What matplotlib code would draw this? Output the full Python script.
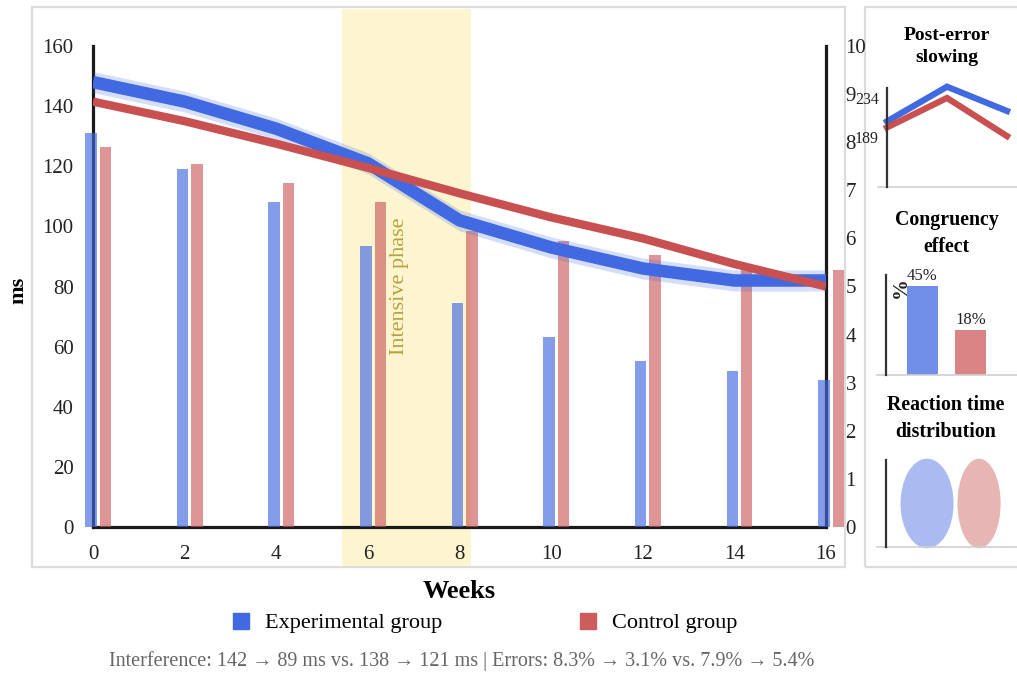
import matplotlib
matplotlib.use('Agg')
import numpy as np
import matplotlib.pyplot as plt
from matplotlib.patches import Rectangle, Ellipse, Patch
from matplotlib.lines import Line2D
import matplotlib.transforms as mtransforms

plt.rcParams['font.family'] = ['Liberation Serif', 'DejaVu Serif']

# ---------------- data ----------------
weeks = [0, 2, 4, 6, 8, 10, 12, 14, 16]
exp_rt = [148, 141.5, 132.5, 121, 102, 93, 86, 82, 82]
ctrl_rt = [141.5, 135, 127.5, 119.5, 111, 103, 96, 87.5, 80]
exp_err = [8.2, 7.45, 6.75, 5.85, 4.65, 3.95, 3.45, 3.25, 3.05]
ctrl_err = [7.9, 7.55, 7.15, 6.75, 6.15, 5.95, 5.65, 5.35, 5.35]
exp_ci = 3.5
phase_start, phase_end = 5.44, 8.25

pes_x = [0, 1, 2]
pes_exp = [207, 247, 219]
pes_ctrl = [200, 234, 190]
pes_ticks = [189, 234]

cong_vals = [45, 18]
cong_labels = ['45%', '18%']

rt_centers = [0, 1]
rt_widths = [1.02, 0.83]
rt_heights = [1.03, 1.03]

BLUE = '#4169e1'
RED = '#cd5c5c'
LINE_RED = '#c85050'

W, H = 1017, 674
fig = plt.figure(figsize=(W / 100, H / 100), dpi=100)


def fx(px):
    return px / W


def fy(py):
    return 1 - py / H


def axes_px(x0, y0, x1, y1):
    return fig.add_axes([fx(x0), fy(y1), fx(x1) - fx(x0), fy(y0) - fy(y1)])


# frames
fig.add_artist(Rectangle((fx(32), fy(567)), fx(845) - fx(32), fy(7) - fy(567),
                         transform=fig.transFigure, fill=False,
                         edgecolor='#dcdcdc', lw=1.6, zorder=-5))
fig.add_artist(Rectangle((fx(865), fy(567)), fx(1030) - fx(865), fy(7) - fy(567),
                         transform=fig.transFigure, fill=False,
                         edgecolor='#dcdcdc', lw=1.6, zorder=-5))

# ---------------- main chart ----------------
ax = axes_px(93, 46, 826, 527)
ax2 = ax.twinx()
ax.set_zorder(2)
ax2.set_zorder(1)
ax.patch.set_visible(False)
ax2.patch.set_visible(False)

ax.set_xlim(0, 16)
ax.set_ylim(0, 160)
ax2.set_ylim(0, 10)

# intensive phase band
trans = mtransforms.blended_transform_factory(ax2.transData, fig.transFigure)
ax2.add_patch(Rectangle((phase_start, fy(566)), phase_end - phase_start,
                        fy(9) - fy(566), transform=trans, color='#fdf5d0',
                        zorder=0, clip_on=False, lw=0))
ax2.text(6.7, 5.0, 'Intensive phase', rotation=90, ha='center', va='center',
         color='#bba13a', fontsize=16, zorder=1)

# bars (error rates, right axis)
bw = 0.25
ax2.bar(np.array(weeks) - 0.045, exp_err, width=bw, color=BLUE, alpha=0.65,
        zorder=3, clip_on=False, lw=0)
ax2.bar(np.array(weeks) + 0.27, ctrl_err, width=bw, color=RED, alpha=0.65,
        zorder=3, clip_on=False, lw=0)

# lines (interference, left axis)
ax.fill_between(weeks, np.array(exp_rt) - exp_ci, np.array(exp_rt) + exp_ci,
                color=BLUE, alpha=0.22, lw=0, zorder=2)
ax.plot(weeks, exp_rt, color=BLUE, lw=9, solid_capstyle='butt',
        solid_joinstyle='round', zorder=3)
ax.plot(weeks, ctrl_rt, color=LINE_RED, lw=6, solid_capstyle='butt',
        solid_joinstyle='round', zorder=4)

for s in ax.spines.values():
    s.set_visible(False)
for name in ['left', 'bottom', 'right']:
    ax2.spines[name].set_color('#1a1a1a')
    ax2.spines[name].set_linewidth(2.3)
ax2.spines['top'].set_visible(False)

ax.set_xticks(weeks)
ax.set_yticks(range(0, 161, 20))
ax2.set_yticks(range(0, 11))
ax.tick_params(axis='x', length=0, pad=13, labelsize=15, colors='#222222')
ax.tick_params(axis='y', length=0, pad=14, labelsize=15, colors='#222222')
ax2.tick_params(axis='y', length=0, pad=14, labelsize=15, colors='#222222')

fig.text(fx(459.5), fy(591), 'Weeks', ha='center', va='center',
         fontsize=19, fontweight='bold')
fig.text(fx(18), fy(290), 'ms', ha='center', va='center', rotation=90,
         fontsize=16, fontweight='bold')

handles = [Patch(color=BLUE), Patch(color=RED)]
fig.legend(handles, ['Experimental group', 'Control group'], loc='center',
           bbox_to_anchor=(fx(485), fy(623)), ncol=2, frameon=False,
           fontsize=16, handlelength=0.75, handleheight=0.75, handletextpad=0.7,
           columnspacing=6.2)

fig.text(fx(462), fy(661),
         'Interference: 142 \u2192 89 ms vs. 138 \u2192 121 ms | Errors: 8.3% \u2192 3.1% vs. 7.9% \u2192 5.4%',
         ha='center', va='center', fontsize=14.5, color='#666666')

# ---------------- side panels ----------------
def style_side(a):
    for n in ['top', 'right', 'bottom']:
        a.spines[n].set_visible(False)
    a.spines['left'].set_color('#333333')
    a.spines['left'].set_linewidth(1.6)
    a.add_line(Line2D([-0.07, 1.0], [0, 0], transform=a.transAxes,
                      color='#d0d0d0', lw=1.2, clip_on=False))
    a.set_xticks([])
    a.set_yticks([])
    a.patch.set_visible(False)


# post-error slowing
s1 = axes_px(887, 88, 1017, 187)
style_side(s1)
s1.set_xlim(0, 2.167)
s1.set_ylim(131.3, 245.5)
s1.plot(pes_x, pes_exp, color=BLUE, lw=4.5, clip_on=False,
        solid_joinstyle='miter')
s1.plot(pes_x, pes_ctrl, color=LINE_RED, lw=4.5, clip_on=False,
        solid_joinstyle='miter')
s1.set_yticks(pes_ticks)
s1.tick_params(axis='y', length=0, pad=6, labelsize=11.5, colors='#222222')
fig.text(fx(947), fy(46.5), 'Post-error\nslowing', ha='center', va='center',
         fontsize=14, fontweight='bold', linespacing=1.45)

# congruency effect
s2 = axes_px(886, 275, 1017, 375)
style_side(s2)
s2.set_xlim(-0.75, 1.95)
ylo = -9.8
s2.set_ylim(ylo, 51.7)
cx = [0, 1]
s2.bar(cx, np.array(cong_vals) - ylo, bottom=ylo, width=0.64,
       color=[BLUE, RED], alpha=0.75, lw=0)
for xi, v, lab in zip(cx, cong_vals, cong_labels):
    s2.annotate(lab, (xi, v), xytext=(0, 1.5), textcoords='offset points',
                ha='center', va='bottom', fontsize=12, color='#222222')
fig.text(fx(901), fy(288), '%', rotation=90, ha='center', va='center',
         fontsize=15, fontweight='bold', color='#222222')
fig.text(fx(946.5), fy(233.5), 'Congruency\neffect', ha='center', va='center',
         fontsize=14.3, fontweight='bold', linespacing=1.45)

# reaction time distribution
s3 = axes_px(886, 460, 1017, 547)
style_side(s3)
s3.set_xlim(-0.79, 1.73)
s3.set_ylim(0, 1)
for c, w_, h_, col in zip(rt_centers, rt_widths, rt_heights, [BLUE, RED]):
    s3.add_patch(Ellipse((c, 0.5), w_, h_, color=col, alpha=0.45, lw=0,
                         clip_on=False))
fig.text(fx(946), fy(418.5), 'Reaction time\ndistribution', ha='center',
         va='center', fontsize=14.3, fontweight='bold', linespacing=1.45)

fig.savefig('out.png', dpi=100, facecolor='white')
